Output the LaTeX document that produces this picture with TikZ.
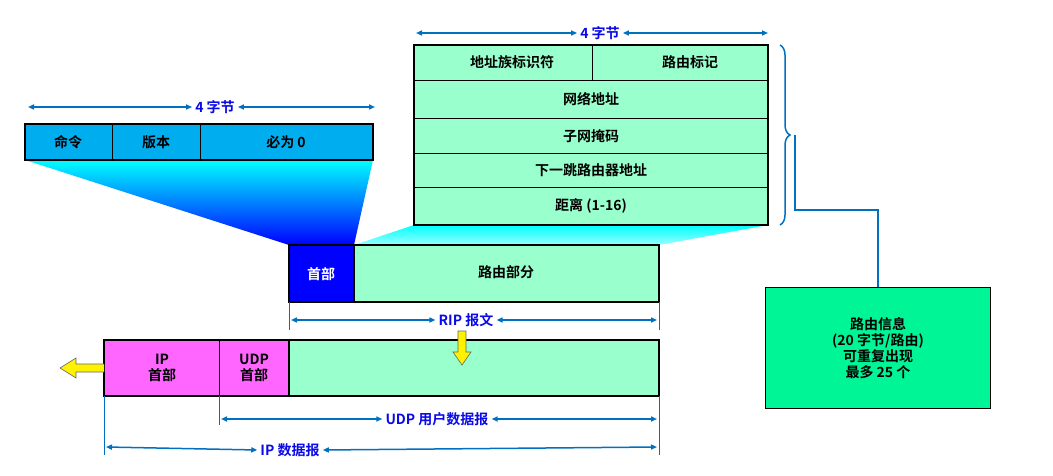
\documentclass[tikz,border=0pt]{standalone}
\usepackage{fontspec}
\setmainfont{Noto Sans CJK SC}[BoldFont={* Bold}]
\usetikzlibrary{arrows.meta,decorations.pathreplacing}
\definecolor{fldgreen}{RGB}{153,255,204}
\definecolor{infgreen}{RGB}{0,245,150}
\definecolor{dimblue}{RGB}{0,112,192}
\definecolor{txtblue}{RGB}{10,10,230}
\definecolor{hdrpink}{RGB}{255,102,255}
\tikzset{
  fld/.style={draw=black,line width=1.2pt,fill=fldgreen},
  lbl/.style={font=\bfseries\fontsize{14}{16}\selectfont},
  dimtxt/.style={lbl,text=txtblue,fill=white,inner sep=3pt},
  dim/.style={draw=dimblue,line width=1.5pt,{Triangle[length=6pt,width=5pt]}-{Triangle[length=6pt,width=5pt]}},
  tick/.style={draw=dimblue,line width=1pt},
  yarrow/.style={draw=black!60,fill=yellow,line width=0.6pt}
}
\begin{document}
\begin{tikzpicture}[x=1pt,y=-1pt]
\useasboundingbox (0,0) rectangle (1053,476);
% funnels
\shade[top color=cyan,bottom color=blue] (25,160) -- (373,160) -- (354,245) -- (289,245) -- cycle;
\shade[top color=cyan,bottom color=cyan!40!white] (414,225) -- (768,225) -- (659,245) -- (354,245) -- cycle;
% header fields
\draw[fill=cyan,line width=1.2pt] (25,124) rectangle (373,160);
\draw[line width=0.8pt] (112,124) -- (112,160) (200,124) -- (200,160);
\node[lbl] (cmd) at (68,142) {命令};
\node[lbl] (ver) at (156,142) {版本};
\node[lbl] (zero) at (286,142) {必为 0};
\node[dimtxt] (hdrw) at (215,107) {4 字节};
\draw[dim] (28,107) -- (hdrw.west);
\draw[dim] (hdrw.east) -- (375,107);
% route entry
\draw[fld] (414,45) rectangle (768,225);
\foreach \y in {80,118,153,187} \draw[line width=0.8pt] (414,\y) -- (768,\y);
\draw[line width=0.8pt] (592,45) -- (592,80);
\node[lbl] (afi) at (512,62) {地址族标识符};
\node[lbl] (tag) at (690,62) {路由标记};
\node[lbl] (net) at (591,99) {网络地址};
\node[lbl] (mask) at (591,136) {子网掩码};
\node[lbl] (hop) at (591,170) {下一跳路由器地址};
\node[lbl] (dist) at (591,206) {距离 (1-16)};
\node[dimtxt] (entw) at (600,33) {4 字节};
\draw[dim] (416,33) -- (entw.west);
\draw[dim] (entw.east) -- (768,33);
% brace and info
\draw[dimblue,line width=1.5pt,decorate,decoration={brace,amplitude=10pt}] (780,45) -- (780,225);
\node[fill=infgreen,draw=black,line width=1pt,minimum width=225pt,minimum height=121pt,align=center,lbl,anchor=north west,inner sep=0pt] (info) at (765,287) {路由信息\\(20 字节/路由)\\可重复出现\\最多 25 个};
\draw[dimblue,line width=1.2pt] (795,135) |- (878,210) -- (info.north -| 878,0);
% RIP message
\draw[fld] (289,245) rectangle (659,302);
\draw[fill=blue,line width=1.2pt] (289,245) rectangle (354,302);
\node[lbl,text=white] (rhdr) at (321,274) {首部};
\node[lbl] (rpart) at (506,272) {路由部分};
\draw[tick] (289,302) -- (289,330) (659,302) -- (659,330);
\node[dimtxt] (ripw) at (466,320) {RIP 报文};
\draw[dim] (291,320) -- (ripw.west);
\draw[dim] (ripw.east) -- (657,320);
% IP datagram
\draw[fld] (289,340) rectangle (659,396);
\draw[fill=hdrpink,line width=1.2pt,draw=black] (104,340) rectangle (289,396);
\draw[line width=0.8pt] (219,340) -- (219,396);
\node[lbl,align=center,inner sep=0pt] (iph) at (162,368) {IP\\首部};
\node[lbl,align=center,inner sep=0pt] (udph) at (254,368) {UDP\\首部};
\draw[yarrow] (458,331) -- (466,331) -- (466,352) -- (471,352) -- (462,365) -- (453,352) -- (458,352) -- cycle;
\draw[yarrow] (104,364) -- (76,364) -- (76,358) -- (60,368) -- (76,378) -- (76,372) -- (104,372);
\draw[tick] (219,396) -- (219,425) (104,396) -- (104,455) (659,396) -- (659,455);
\node[dimtxt] (udpw) at (437,419) {UDP 用户数据报};
\draw[dim] (221,419) -- (udpw.west);
\draw[dim] (udpw.east) -- (657,419);
\node[dimtxt] (ipw) at (290,450) {IP 数据报};
\draw[dim] (106,447) -- (ipw.west);
\draw[dim] (ipw.east) -- (657,447);
\end{tikzpicture}
\end{document}
